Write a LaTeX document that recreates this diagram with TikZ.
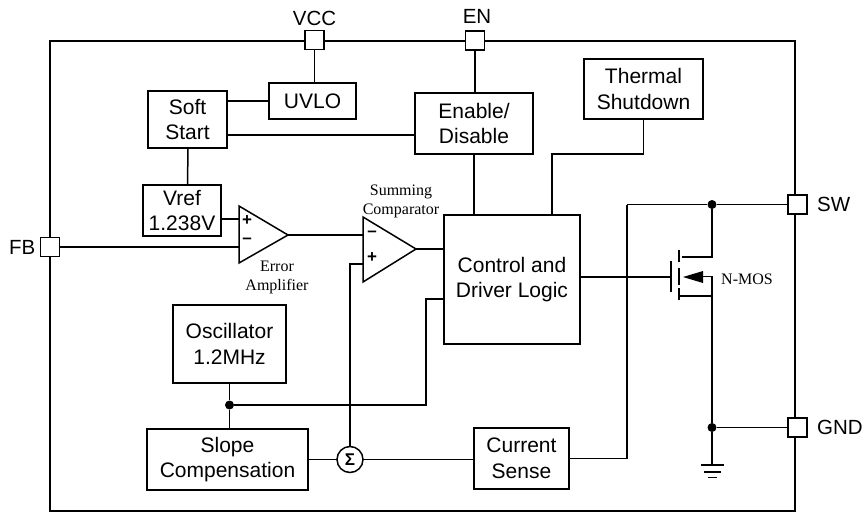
\documentclass[tikz,border=0pt]{standalone}
\usepackage{fontspec}
\setmainfont{Liberation Sans}
\newfontfamily\labelfont{Liberation Serif}
\usepackage{tikz}
\usetikzlibrary{positioning, calc}

\begin{document}
\begin{tikzpicture}[
  x=1pt, y=-1pt,
  box/.style={draw, line width=1.5pt, outer sep=0pt, align=center, inner sep=0pt, font=\fontsize{21}{25.5}\selectfont},
  pad/.style={draw, line width=1.5pt, fill=white, outer sep=0pt, inner sep=0pt, minimum size=19pt},
  padlabel/.style={inner sep=0pt, font=\fontsize{20.5}{24}\selectfont},
  smalllabel/.style={inner sep=0pt, align=center, font=\labelfont\fontsize{16}{19}\selectfont},
  sign/.style={inner sep=0pt, font=\bfseries\fontsize{17}{17}\selectfont},
  dot/.style={circle, fill=black, inner sep=0pt, minimum size=9pt},
  wire/.style={line width=1.5pt},
]
\useasboundingbox (0,0) rectangle (865,512);

% Frame
\draw[wire] (50,41) rectangle (795,511);

% Nodes
\node[box, minimum width=136pt, minimum height=129pt] (control) at (512,279.5) {Control and\\Driver Logic};
\node[box, minimum width=118pt, minimum height=61pt, above=61pt of control, xshift=-38pt] (enable) {Enable/\\Disable};
\node[box, minimum width=119pt, minimum height=60pt, above=96pt of control, xshift=131.5pt] (thermal) {Thermal\\Shutdown};
\node[box, minimum width=79pt, minimum height=57pt, left=188pt of enable, yshift=4pt] (softstart) {Soft\\Start};
\node[box, minimum width=87pt, minimum height=36pt, right=42pt of softstart, yshift=18.5pt] (uvlo) {UVLO};
\node[box, minimum width=78pt, minimum height=51pt, below=37pt of softstart, xshift=-5.5pt] (vref) {Vref\\1.238V};
\node[box, minimum width=113pt, minimum height=78pt, below=69pt of vref, xshift=47.5pt] (osc) {Oscillator\\1.2MHz};
\node[box, minimum width=161pt, minimum height=61pt, below=46pt of osc, xshift=-2pt] (slope) {Slope\\Compensation};
\node[box, minimum width=95pt, minimum height=61pt, right=166pt of slope, yshift=1pt] (current) {Current\\Sense};
\node[draw, circle, line width=1.5pt, outer sep=0pt, inner sep=0pt, minimum size=26pt, font=\bfseries\fontsize{17}{17}\selectfont, right=29pt of slope] (sum) {Σ};

% Pads
\node[pad] (vccpad) at (314.5,40) {};
\node[pad] (enpad) at (475,40.5) {};
\node[pad] (swpad) at (797.5,204.5) {};
\node[pad] (gndpad) at (797.5,427.5) {};
\node[pad] (fbpad) at (50,247) {};
\node[padlabel, above=5pt of vccpad] (vcclabel) {VCC};
\node[padlabel, above=7pt of enpad, xshift=2pt] (enlabel) {EN};
\node[padlabel, right=10pt of swpad] (swlabel) {SW};
\node[padlabel, right=10pt of gndpad] (gndlabel) {GND};
\node[padlabel, left=5pt of fbpad] (fblabel) {FB};

% Amplifiers
\coordinate (errplus) at (239,219);
\coordinate (errminus) at (239,247);
\coordinate (errout) at (288,235);
\coordinate (cmpminus) at (363,235);
\coordinate (cmpplus) at (363,264);
\coordinate (cmpout) at (416,249);
\draw[wire, line join=miter] (239,206) -- (239,263) -- (errout) -- cycle;
\draw[wire, line join=miter] (363,217) -- (363,282) -- (cmpout) -- cycle;
\node[sign] (errplussign) at (247,221) {+};
\node[sign] (errminussign) at (247,241) {–};
\node[sign] (cmpminussign) at (372,234) {–};
\node[sign] (cmpplussign) at (372,258) {+};

% Labels
\node[smalllabel] (cmplabel) at (401,201) {Summing\\Comparator};
\node[smalllabel] (errlabel) at (277,277) {Error\\Amplifier};
\node[smalllabel, anchor=west] (moslabel) at (721,279) {N-MOS};

% Arrows
\draw[wire] (vccpad) -- (vccpad |- uvlo.north);
\draw[wire] (uvlo.west) -- (uvlo.west -| softstart.east);
\draw[wire] (softstart.east |- 0,135) -- (enable.west |- 0,135);
\draw[wire] (enpad) -- (enpad |- enable.north);
\draw[wire] (softstart.south) ++(0.5,0) -- (softstart.south |- vref.north);
\draw[wire] (enable.south) -- (enable.south |- control.north);
\draw[wire] (thermal.south) |- (552,154) -- (552,215);
\draw[wire] (vref.east |- errplus) -- (errplus);
\draw[wire] (fbpad.east) -- (errminus);
\draw[wire] (errout) -- (cmpminus);
\draw[wire] (cmpout) -- (control.west |- cmpout);
\draw[wire] (sum.north) |- (cmpplus);

\node[dot] (oscdot) at (osc.south |- 0,405) {};
\draw[wire] (osc.south) -- (oscdot);
\draw[wire] (oscdot) -- (slope.north -| oscdot);
\draw[wire] (oscdot) -| (426,299) -- (control.west |- 0,299);
\draw[wire] (slope.east |- sum) -- (sum.west);
\draw[wire] (sum.east) -- (current.west |- sum);

\node[dot] (swdot) at (712,204.5) {};
\node[dot] (gnddot) at (712,427.5) {};
\coordinate (senseturn) at (627,204.5);
\draw[wire] (swpad.west) -- (swdot);
\draw[wire] (swdot) -- (senseturn);
\draw[wire] (senseturn) -- (senseturn |- current.east) -- (current.east);
\draw[wire] (gndpad.west) -- (gnddot);

% N-MOS
\coordinate (gate) at (671,277);
\draw[wire] (control.east |- gate) -- (gate);
\draw[wire] (671,261) -- (671,292);
\draw[wire] (679,250) -- (679,262);
\draw[wire] (679,268) -- (679,285);
\draw[wire] (679,288) -- (679,300);
\draw[wire] (682,257) -| (swdot);
\draw[wire] (679,296) -| (gnddot);
\draw[wire] (703,276.5) -| (712,296);
\fill (683,277) -- (703,271) -- (703,283) -- cycle;

% Ground
\draw[wire] (gnddot) -- (712,465);
\draw[wire] (701,465) -- (724,465);
\draw[wire] (704,472) -- (721,472);
\draw[wire] (708,477.5) -- (717,477.5);

\end{tikzpicture}
\end{document}
